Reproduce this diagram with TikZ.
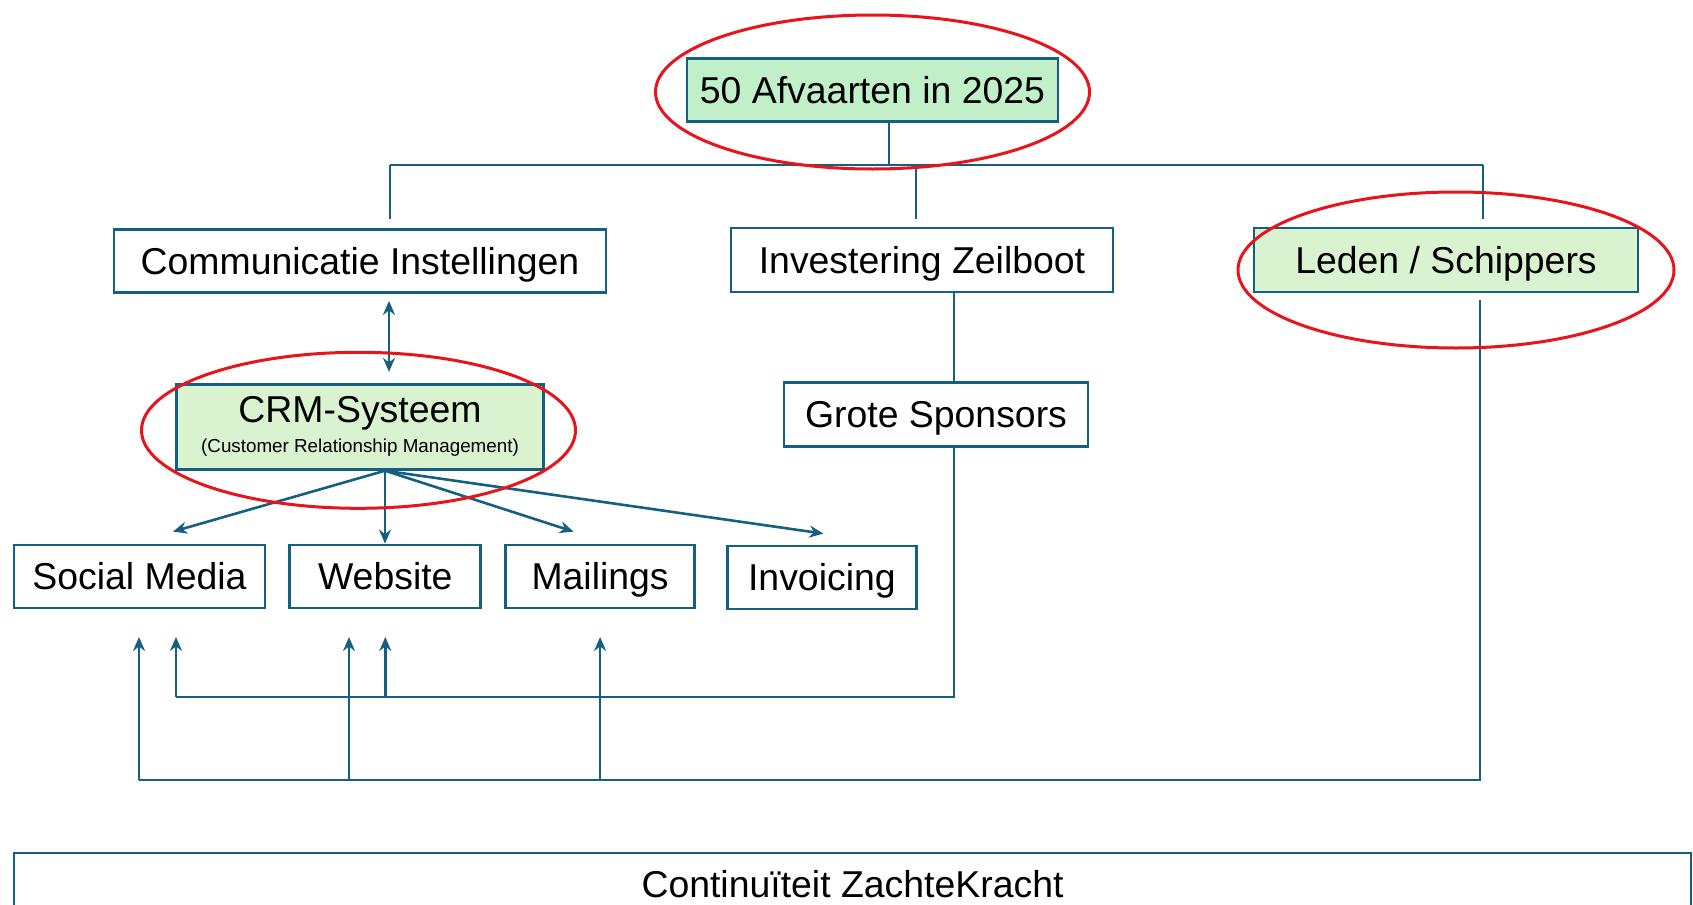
\documentclass[tikz,border=0pt]{standalone}
\usepackage{fontspec}
\setmainfont{Liberation Sans}
\usetikzlibrary{positioning, arrows.meta}
\definecolor{boxblue}{HTML}{156082}
\definecolor{goalgreen}{HTML}{C1F0C8}
\definecolor{softgreen}{HTML}{D9F2D0}
\definecolor{ringred}{HTML}{E8141B}
\tikzset{plain box/.style={rectangle,draw=boxblue,line width=1.4pt,fill=white,minimum height=31.5pt,inner sep=0pt,text height=16.5pt,text depth=3.5pt,font=\fontsize{18.7}{22}\selectfont},
green box/.style={plain box,fill=softgreen},
link/.style={draw=boxblue,line width=1.3pt},
arrow link/.style={link,-{Stealth[length=7pt,width=6pt]}},
both link/.style={link,{Stealth[length=7pt,width=6pt]}-{Stealth[length=7pt,width=6pt]}},
ring/.style={draw=ringred,line width=1.5pt}}

\begin{document}
\begin{tikzpicture}[x=0.5pt,y=0.5pt]
            \path[use as bounding box, clip] (0,0) rectangle (1693,-905);

            % goal and second row
            \node[green box, fill=goalgreen, minimum width=185.5pt] (goal) at (872.5,-90) {50 Afvaarten in 2025};
            \node[plain box, minimum width=246pt] (comm) at (360,-261) {Communicatie Instellingen};
            \node[plain box, minimum width=191pt, minimum height=32pt] (invest) at (922,-260) {Investering Zeilboot};
            \node[green box, minimum width=192pt, minimum height=32pt] (leden) at (1446,-260) {Leden / Schippers};

            \node[green box, minimum width=183.5pt, minimum height=42.5pt, align=center, text height=, text depth=] (crm) [below=44.5pt of comm] {CRM-Systeem\\[-7pt]{\fontsize{9.4}{11}\selectfont (Customer Relationship Management)}};
            \node[plain box, minimum width=152pt, minimum height=32pt] (sponsors) [below=44pt of invest, xshift=7pt] {Grote Sponsors};

            % channels
            \node[plain box, minimum width=125.5pt] (social) at (139.5,-576.5) {Social Media};
            \node[plain box, minimum width=95.5pt] (website) [right=11pt of social] {Website};
            \node[plain box, minimum width=94.5pt] (mailings) [right=11pt of website] {Mailings};
            \node[plain box, minimum width=94.5pt] (invoicing) [right=15pt of mailings, yshift=-0.5pt] {Invoicing};

            \node[plain box, minimum width=838.5pt, minimum height=31pt] (cont) at (852.5,-884) {Continuïteit ZachteKracht};

            % tree under the goal
            \coordinate (busC) at (889,-165);
            \coordinate (busL) at (390,-165);
            \coordinate (busM) at (916,-165);
            \coordinate (busR) at (1483,-165);
            \coordinate (drop) at (0,-219);
            \path[link] (busC |- goal.south) -- (busC)
            (busL) -- (busR)
            (busL) -- (busL |- drop)
            (busM) -- (busM |- drop)
            (busR) -- (busR |- drop);

            \path[both link] ([shift={(29,-7)}]comm.south) -- ([shift={(29,11)}]crm.north);

            % crm to the channels
            \coordinate (fan) at ([xshift=12.5pt]crm.south);
            \path[arrow link] (fan) -- ([shift={(33.5,12)}]social.north);
            \path[arrow link] (fan) -- (fan |- website.north);
            \path[arrow link] (fan) -- ([shift={(-26.5,12)}]mailings.north);
            \path[arrow link] (fan) -- ([shift={(1.5,11)}]invoicing.north);

            % sponsors loop
            \coordinate (invDown) at ([xshift=16pt]invest.south);
            \coordinate (sponDown) at ([xshift=9pt]sponsors.south);
            \coordinate (loopA) at (176,-697);
            \coordinate (tips) at (0,-637);
            \path[link] (invDown) -- (invDown |- sponsors.north);
            \path[link] (sponDown) |- (loopA);
            \path[arrow link] (loopA) -- (loopA |- tips);
            \path[arrow link] (website.south |- loopA) -- (website.south |- tips);

            % leden loop
            \coordinate (ledenDown) at ([shift={(34,-7)}]leden.south);
            \coordinate (loopB) at (139,-780);
            \coordinate (webB) at (349,-780);
            \path[link] (ledenDown) |- (loopB);
            \path[arrow link] (loopB) -- (loopB |- tips);
            \path[arrow link] (webB) -- (webB |- tips);
            \path[arrow link] (mailings.south |- loopB) -- (mailings.south |- tips);

            % red rings
            \draw[ring] ([shift={(0,-2)}]goal.center) ellipse [x radius=217, y radius=77];
            \draw[ring] ([shift={(10,-10)}]leden.center) ellipse [x radius=218, y radius=78];
            \draw[ring] ([shift={(-1.5,-3.5)}]crm.center) ellipse [x radius=217, y radius=78];
        \end{tikzpicture}
\end{document}
